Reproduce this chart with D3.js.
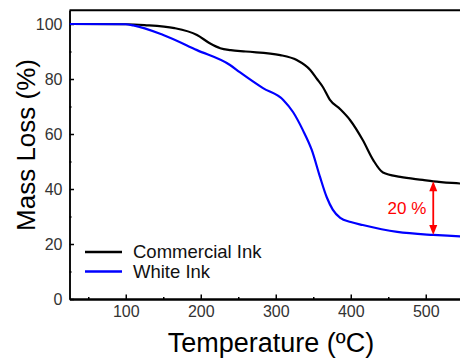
<!DOCTYPE html>
<html>
<head>
<meta charset="utf-8">
<script src="https://cdn.jsdelivr.net/npm/d3@7/dist/d3.min.js"></script>
<style>
  body { margin: 0; background: #fff; }
  svg { display: block; font-family: "Liberation Sans", Arial, sans-serif; }
</style>
</head>
<body>
<svg id="chart" width="460" height="358"></svg>
<script>
// ── Data ─────────────────────────────────────────────────────────────────────
const commercialTemp = [25, 100, 125, 165, 195, 212, 226, 240, 260, 306, 328, 346, 355, 363, 372, 386, 399, 416, 430, 443, 466, 496, 510, 546, 560];
const commercialMass = [100, 99.9, 99.6, 98.5, 96, 93, 91.2, 90.5, 90, 88.7, 86.9, 83.3, 80, 77, 72.5, 69, 65.1, 57.8, 50.5, 46, 44.4, 43.3, 42.8, 42, 41.7];

const whiteTemp = [25, 100, 110, 150, 195, 239, 252, 283, 310, 323, 336, 348, 359, 368, 376, 386, 400, 416, 462, 510, 546, 560];
const whiteMass = [100, 99.9, 99.5, 96, 90.5, 85.1, 82.5, 76.7, 72.4, 68, 61.5, 54.2, 44.4, 37, 32.5, 29.5, 28, 26.9, 24.4, 23.3, 22.8, 22.7];

const xMajor = [100, 200, 300, 400, 500];
const xMinor = [50, 150, 250, 350, 450, 550];
const yMajor = [0, 20, 40, 60, 80, 100];
const yMinor = [10, 30, 50, 70, 90];

const seriesNames = ["Commercial Ink", "White Ink"];
const seriesColors = ["#000000", "#0000ff"];

// annotation: difference between the two residues
const diffTemp = 510;
const diffTop = 42.8;
const diffBottom = 23.3;
const diffLabel = "20 %";

// ── Scales ───────────────────────────────────────────────────────────────────
const svg = d3.select("#chart");
const x = d3.scaleLinear().domain([25, 560]).range([69.5, 470.75]);
const y = d3.scaleLinear().domain([0, 105]).range([299, 10.25]);

// top frame line
svg.append("line")
  .attr("x1", x(25)).attr("x2", x(560))
  .attr("y1", y(105)).attr("y2", y(105))
  .attr("stroke", "#000").attr("stroke-width", 2);

// ── Axes ─────────────────────────────────────────────────────────────────────
function styleAxis(g, width) {
  g.select(".domain").attr("stroke", "#000").attr("stroke-width", width);
  g.selectAll(".tick line").attr("stroke", "#000").attr("stroke-width", 1.5);
  g.selectAll(".tick text").attr("fill", "#333").style("font-size", "16px");
}

svg.append("g")
  .attr("transform", `translate(0,${y(0)})`)
  .call(d3.axisBottom(x).tickValues(xMinor).tickSizeInner(-2).tickSizeOuter(0).tickFormat(""))
  .call(g => styleAxis(g, 2));

svg.append("g")
  .attr("transform", `translate(0,${y(0)})`)
  .call(d3.axisBottom(x).tickValues(xMajor).tickSizeInner(-4.5).tickSizeOuter(0).tickPadding(7))
  .call(g => styleAxis(g, 2));

svg.append("g")
  .attr("transform", `translate(${x(25)},0)`)
  .call(d3.axisLeft(y).tickValues(yMinor).tickSizeInner(-2).tickSizeOuter(0).tickFormat(""))
  .call(g => styleAxis(g, 1.5));

svg.append("g")
  .attr("transform", `translate(${x(25)},0)`)
  .call(d3.axisLeft(y).tickValues(yMajor).tickSizeInner(-4.5).tickSizeOuter(0).tickPadding(7))
  .call(g => styleAxis(g, 1.5));

// axis titles
svg.append("text")
  .attr("x", 271).attr("y", 352)
  .attr("text-anchor", "middle")
  .style("font-size", "27px")
  .attr("fill", "#000")
  .text("Temperature (ºC)");

svg.append("text")
  .attr("transform", "translate(35,145) rotate(-90)")
  .attr("text-anchor", "middle")
  .style("font-size", "26px")
  .attr("fill", "#000")
  .text("Mass Loss (%)");

// ── Curves ───────────────────────────────────────────────────────────────────
const line = d3.line()
  .x(d => x(d[0]))
  .y(d => y(d[1]))
  .curve(d3.curveMonotoneX);

svg.append("clipPath").attr("id", "plot-clip")
  .append("rect")
  .attr("x", x(25)).attr("y", y(105))
  .attr("width", x(560) - x(25)).attr("height", y(0) - y(105));

const series = [
  d3.zip(commercialTemp, commercialMass),
  d3.zip(whiteTemp, whiteMass)
];

svg.append("g").attr("clip-path", "url(#plot-clip)")
  .selectAll("path")
  .data(series)
  .join("path")
  .attr("d", line)
  .attr("fill", "none")
  .attr("stroke", (d, i) => seriesColors[i])
  .attr("stroke-width", 2.2)
  .attr("stroke-linejoin", "round");

// ── Legend ───────────────────────────────────────────────────────────────────
const legend = svg.append("g").selectAll("g")
  .data(seriesNames)
  .join("g")
  .attr("transform", (d, i) => `translate(85,${252 + i * 19.5})`);

legend.append("line")
  .attr("x1", 0).attr("x2", 37)
  .attr("stroke", (d, i) => seriesColors[i])
  .attr("stroke-width", 2.4);

legend.append("text")
  .attr("x", 48).attr("dy", "0.35em")
  .style("font-size", "18.5px")
  .attr("fill", "#111")
  .text(d => d);

// ── Annotation arrow ─────────────────────────────────────────────────────────
const ax = x(diffTemp);
const yTop = y(diffTop);
const yBot = y(diffBottom);
const head = 10, half = 4;

svg.append("line")
  .attr("x1", ax).attr("x2", ax)
  .attr("y1", yTop + head - 1).attr("y2", yBot - head + 1)
  .attr("stroke", "#ff0000").attr("stroke-width", 1.8);

svg.append("path")
  .attr("d", `M${ax},${yTop} L${ax - half},${yTop + head} L${ax + half},${yTop + head} Z`)
  .attr("fill", "#ff0000");

svg.append("path")
  .attr("d", `M${ax},${yBot} L${ax - half},${yBot - head} L${ax + half},${yBot - head} Z`)
  .attr("fill", "#ff0000");

svg.append("text")
  .attr("x", ax - 7).attr("y", (yTop + yBot) / 2)
  .attr("dy", "0.35em")
  .attr("text-anchor", "end")
  .style("font-size", "17px")
  .attr("fill", "#ff0000")
  .text(diffLabel);
</script>
</body>
</html>
